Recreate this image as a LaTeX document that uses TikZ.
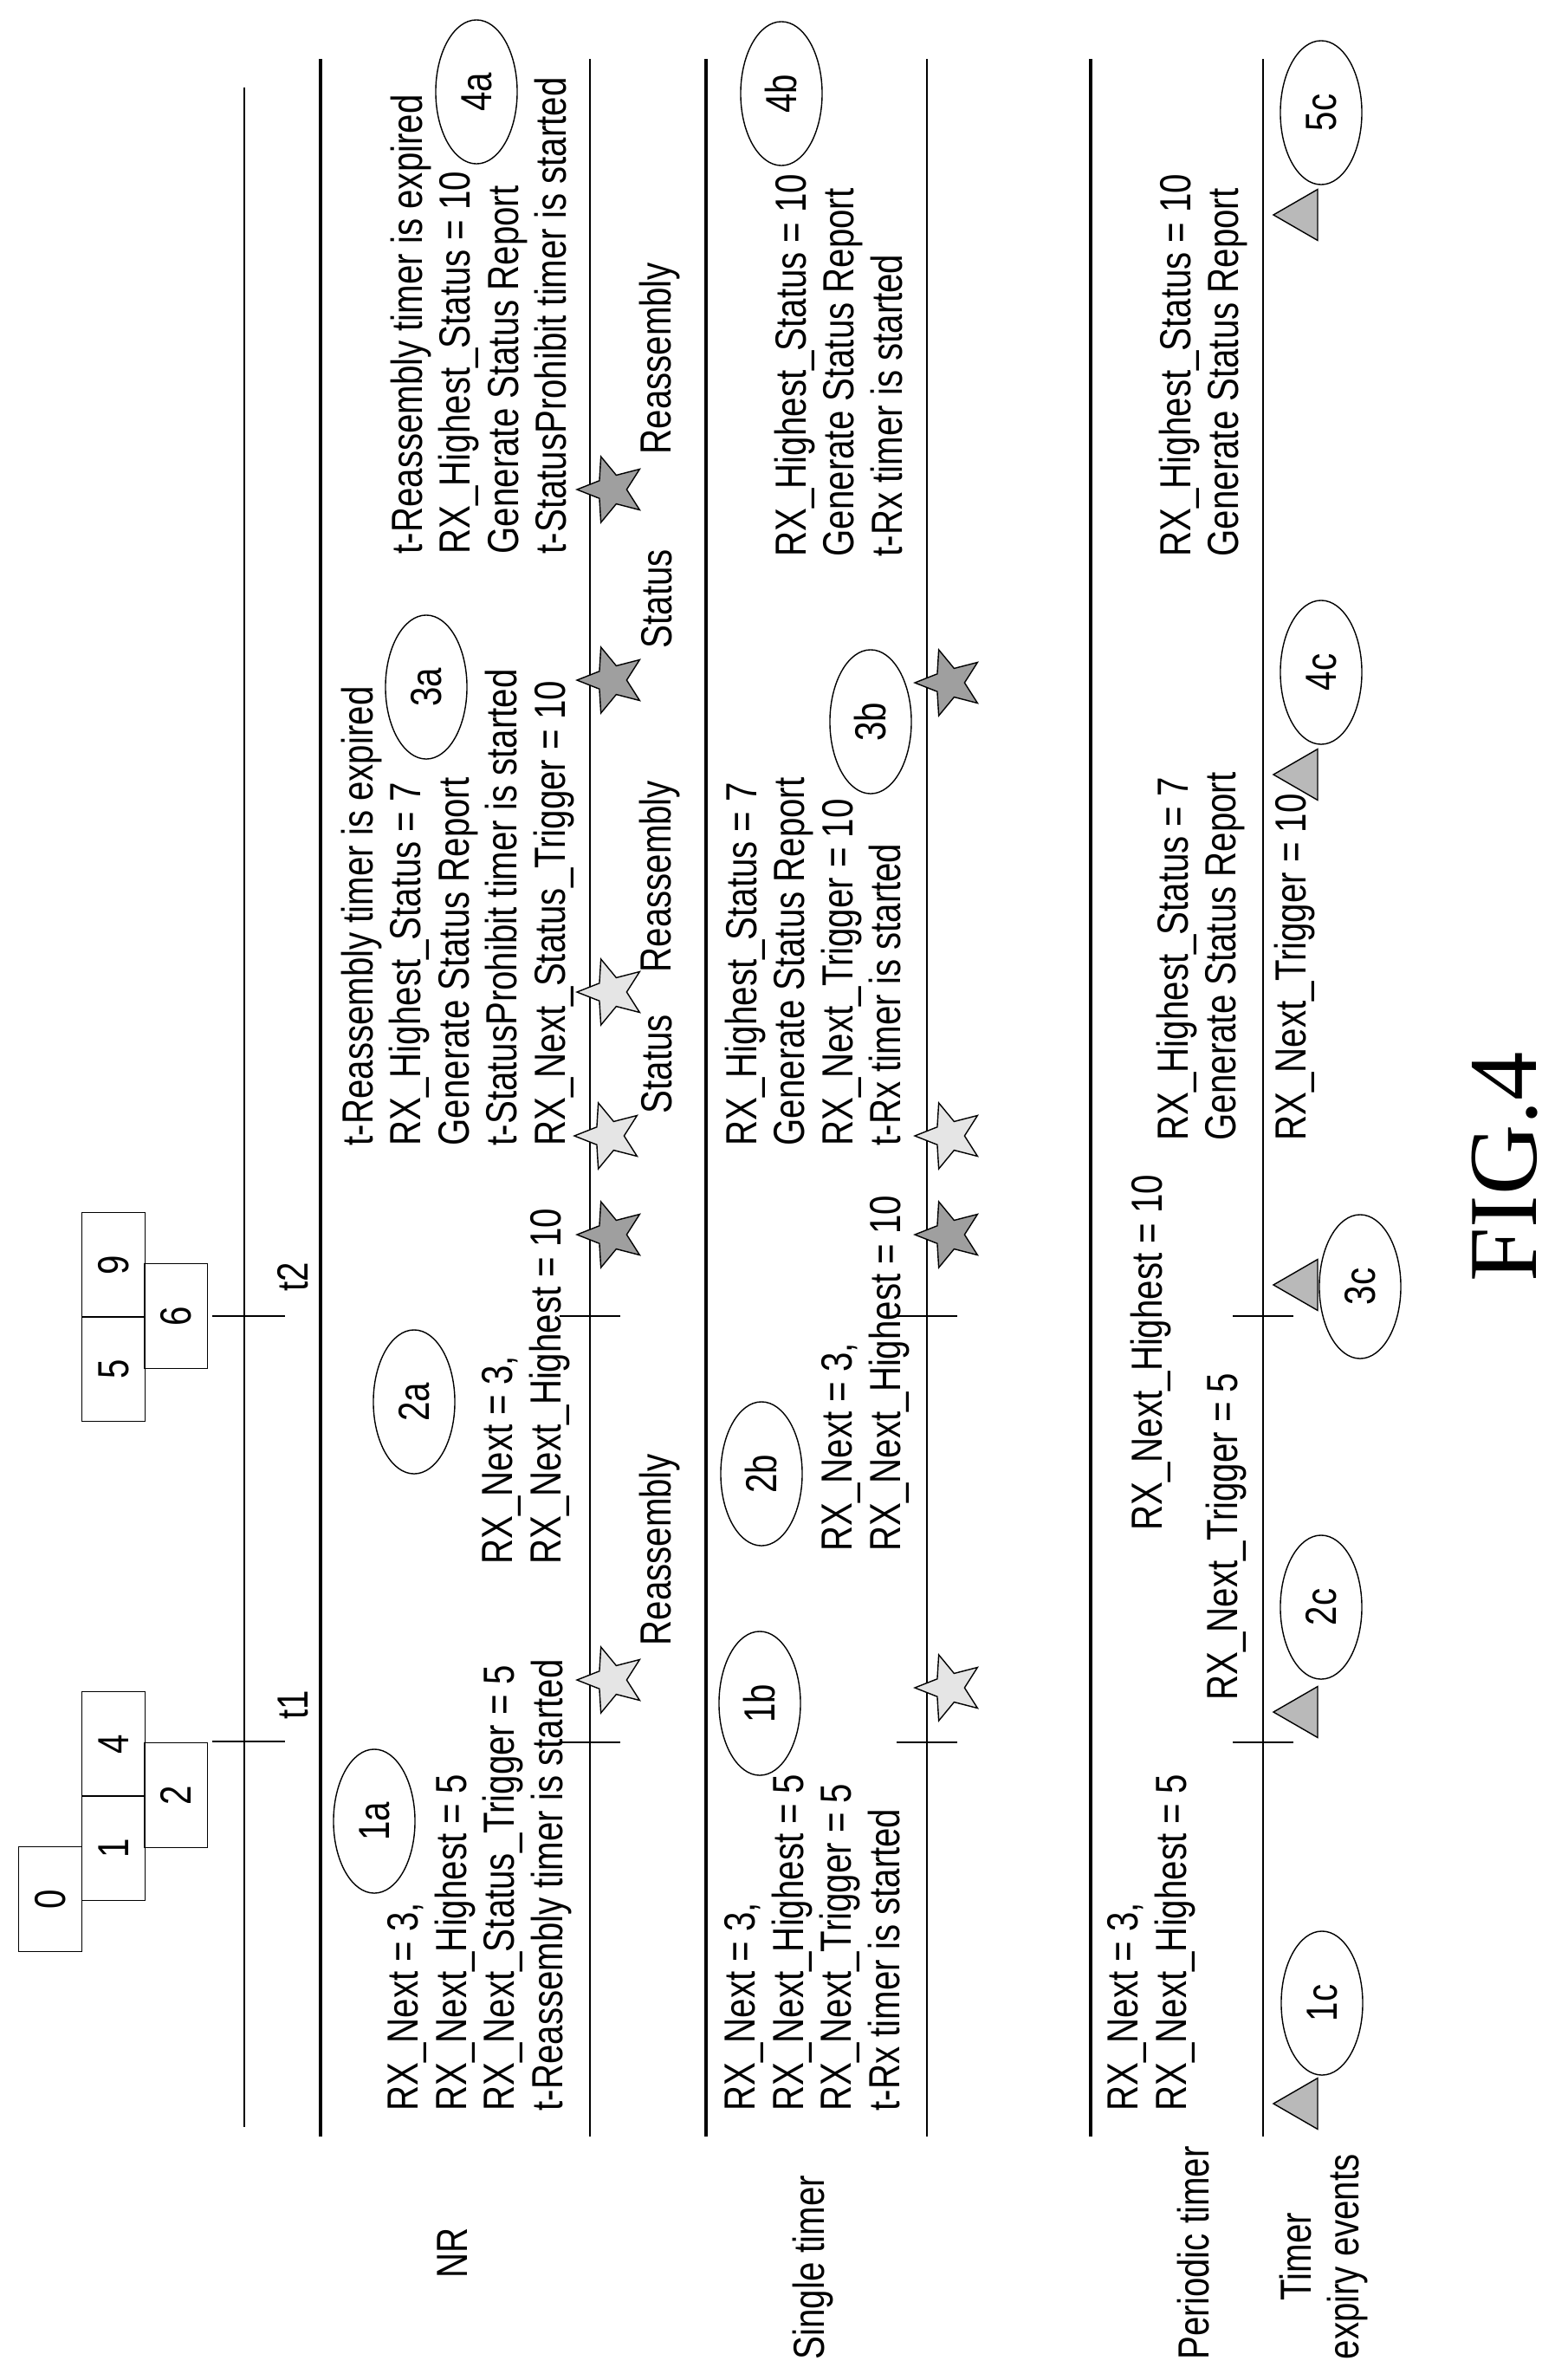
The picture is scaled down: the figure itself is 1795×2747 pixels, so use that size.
\documentclass[tikz,border=0pt]{standalone}
\usepackage{fontspec}
\usepackage{tikz}
\usetikzlibrary{shapes.geometric, positioning}
\newfontfamily\lblfont[FakeStretch=0.8]{Liberation Sans}
\newfontfamily\figfont{Liberation Serif}
\newcommand{\lbl}{\lblfont\fontsize{14.3}{15.8}\selectfont}
\tikzset{
  txt/.style={rotate=90, anchor=north west, align=left, inner sep=0pt, font=\lbl},
  tag/.style={draw, ellipse, rotate=90, minimum width=1.66cm, minimum height=0.94cm, inner sep=0pt, font=\lbl},
  pkt/.style={draw, rectangle, rotate=90, minimum width=1.21cm, minimum height=0.73cm, inner sep=0pt, font=\lbl},
  lstar/.style={draw, star, star points=5, star point ratio=2.3, minimum size=0.8cm, inner sep=0pt, rotate=90, fill=gray!20},
  dstar/.style={lstar, fill=gray!75},
  expiry/.style={draw, regular polygon, regular polygon sides=3, minimum size=0.68cm, inner sep=0pt, rotate=90, fill=gray!55},
  thin line/.style={line width=0.7pt},
  thick line/.style={line width=1.4pt}
}
\begin{document}
\begin{tikzpicture}[x=0.01cm, y=0.01cm]
\useasboundingbox (0,0) rectangle (1795,-2747);
% timelines
\draw[thin line] (282,-101) -- (282,-2455);
\foreach \lx in {370,815,1259} \draw[thick line] (\lx,-68) -- (\lx,-2466);
\foreach \lx in {681,1070,1458} {
  \draw[thin line] (\lx,-68) -- (\lx,-2466);
  \draw[thin line] (\lx-35,-2011) -- (\lx+35,-2011);
  \draw[thin line] (\lx-35,-1519) -- (\lx+35,-1519);
}
% packets
\node[pkt] (p0) at (58,-2192) {0};
\node[pkt] (p1) at (131,-2133) {1};
\node[pkt] (p4) at (131,-2013) {4};
\node[pkt] (p2) at (203,-2072) {2};
\node[pkt] (p5) at (131,-1580) {5};
\node[pkt] (p9) at (131,-1460) {9};
\node[pkt] (p6) at (203,-1519) {6};
\coordinate (t1s) at (245,-2010);
\coordinate (t1e) at (329,-2010);
\coordinate (t2s) at (245,-1519);
\coordinate (t2e) at (329,-1519);
\draw[thin line] (t1s) -- (t1e);
\draw[thin line] (t2s) -- (t2e);
\node[rotate=90, font=\lbl] (t1) at (338,-1968) {t1};
\node[rotate=90, font=\lbl] (t2) at (338,-1474) {t2};
% row labels
\node[txt] (nr) at (504,-2630) {NR};
\node[txt] (single) at (914,-2724) {Single timer};
\node[txt] (periodic) at (1358,-2724) {Periodic timer};
\node[txt, align=center] (events) at (1476,-2724) {Timer\\expiry events};
% NR
\node[txt] (nrA) at (447,-2437) {RX\_Next = 3,\\RX\_Next\_Highest = 5\\RX\_Next\_Status\_Trigger = 5\\t-Reassembly timer is started};
\node[txt] (nrB) at (556,-1806) {RX\_Next = 3,\\RX\_Next\_Highest = 10};
\node[txt] (nrC) at (393,-1323) {t-Reassembly timer is expired\\RX\_Highest\_Status = 7\\Generate Status Report\\t-StatusProhibit timer is started\\RX\_Next\_Status\_Trigger = 10};
\node[txt] (nrD) at (450,-640) {t-Reassembly timer is expired\\RX\_Highest\_Status = 10\\Generate Status Report\\t-StatusProhibit timer is started};
\node[tag] (e1a) at (432,-2102) {1a};
\node[tag] (e2a) at (478,-1618) {2a};
\node[tag] (e3a) at (492,-793) {3a};
\node[tag] (e4a) at (550,-106) {4a};
\node[lstar] (s1) at (706,-1939) {};
\node[dstar] (s2) at (706,-1425) {};
\node[lstar] (s3) at (703,-1311) {};
\node[lstar] (s4) at (706,-1145) {};
\node[dstar] (s5) at (706,-785) {};
\node[dstar] (s6) at (706,-565) {};
\node[txt] (r1) at (737,-1900) {Reassembly};
\node[txt] (r2) at (740,-1286) {Status};
\node[txt] (r3) at (737,-1123) {Reassembly};
\node[txt] (r4) at (740,-749) {Status};
\node[txt] (r5) at (737,-525) {Reassembly};
% single timer
\node[txt] (stA) at (836,-2437) {RX\_Next = 3,\\RX\_Next\_Highest = 5\\RX\_Next\_Trigger = 5\\t-Rx timer is started};
\node[txt] (stB) at (948,-1791) {RX\_Next = 3,\\RX\_Next\_Highest = 10};
\node[txt] (stC) at (836,-1323) {RX\_Highest\_Status = 7\\Generate Status Report\\RX\_Next\_Trigger = 10\\t-Rx timer is started};
\node[txt] (stD) at (893,-643) {RX\_Highest\_Status = 10\\Generate Status Report\\t-Rx timer is started};
\node[tag] (e1b) at (877,-1966) {1b};
\node[tag] (e2b) at (879,-1701) {2b};
\node[tag] (e3b) at (1005,-833) {3b};
\node[tag] (e4b) at (902,-108) {4b};
\node[lstar] (u1) at (1096,-1948) {};
\node[dstar] (u2) at (1096,-1425) {};
\node[lstar] (u3) at (1096,-1311) {};
\node[dstar] (u4) at (1096,-788) {};
% periodic timer
\node[txt] (ptA) at (1278,-2437) {RX\_Next = 3,\\RX\_Next\_Highest = 5};
\node[txt] (ptB) at (1304,-1767) {RX\_Next\_Highest = 10};
\node[txt] (ptC) at (1391,-1963) {RX\_Next\_Trigger = 5};
\node[txt] (ptD) at (1334,-1317) {RX\_Highest\_Status = 7\\Generate Status Report};
\node[txt] (ptE) at (1470,-1317) {RX\_Next\_Trigger = 10};
\node[txt] (ptF) at (1337,-643) {RX\_Highest\_Status = 10\\Generate Status Report};
\node[expiry] (x1) at (1504,-2428) {};
\node[expiry] (x2) at (1504,-1976) {};
\node[expiry] (x3) at (1504,-1483) {};
\node[expiry] (x4) at (1504,-894) {};
\node[expiry] (x5) at (1504,-248) {};
\node[tag] (e1c) at (1526,-2312) {1c};
\node[tag] (e2c) at (1525,-1855) {2c};
\node[tag] (e3c) at (1570,-1485) {3c};
\node[tag] (e4c) at (1525,-776) {4c};
\node[tag] (e5c) at (1525,-130) {5c};
% caption
\node[rotate=90, font=\figfont\fontsize{32}{36}\selectfont] (fig) at (1737,-1347) {FIG.4};
\end{tikzpicture}
\end{document}
